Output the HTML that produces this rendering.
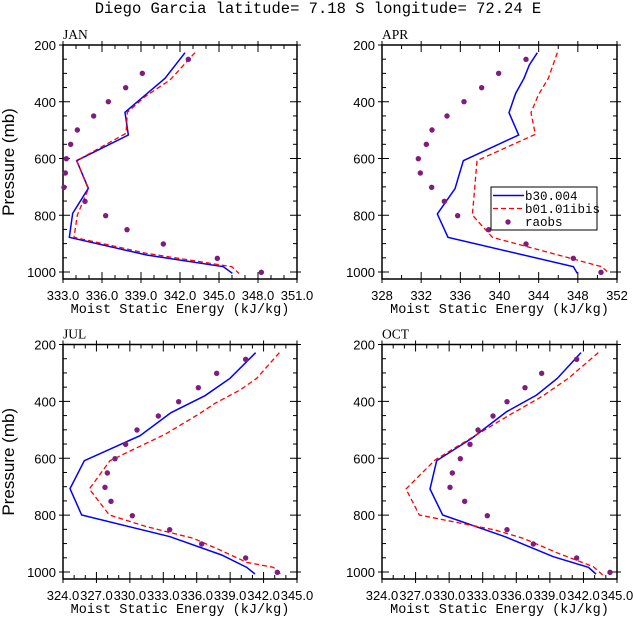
<!DOCTYPE html>
<html><head><meta charset="utf-8"><style>
body{margin:0;background:#fff;}
svg text{fill:#000}
.t{font-family:"Liberation Sans",sans-serif;font-size:13px}
.m{font-family:"Liberation Mono",monospace}
.s{font-family:"Liberation Serif",serif}
</style></head><body>
<svg id="s" xmlns="http://www.w3.org/2000/svg" width="633" height="624" viewBox="0 0 633 624">
<text class="m" x="318" y="13" font-size="15.5" text-anchor="middle" style="font-family:'Liberation Mono','Courier New',monospace">Diego Garcia  latitude= 7.18 S longitude= 72.24 E</text>
</svg>
<script>
var s=document.getElementById('s'),NS='http://www.w3.org/2000/svg';
function el(t,a,txt){var e=document.createElementNS(NS,t);for(var k in a)e.setAttribute(k,a[k]);if(txt!=null)e.textContent=txt;s.appendChild(e);return e;}
function conv(arr,ox,oy){var r=[];for(var i=0;i<arr.length;i+=2)r.push([arr[i]/3+ox,arr[i+1]/3+oy]);return r;}
function panel(p){
 var x0=p.x0,x1=p.x1,y0=p.y0,y1=p.y1,yb=p.yb;
 var ppm=(yb-y0)/800;
 el('rect',{x:x0,y:y0,width:x1-x0,height:y1-y0,fill:'none',stroke:'#000','stroke-width':1.5});
 el('text',{x:x0,y:y0-6,'class':'s','font-size':13.5},p.name);
 for(var pr=200;pr<=1000;pr+=50){var y=y0+(pr-200)*ppm;var L=(pr%200==0)?7:4;
  el('line',{x1:x0,y1:y,x2:x0+L,y2:y,stroke:'#000'});el('line',{x1:x1,y1:y,x2:x1-L,y2:y,stroke:'#000'});
  if(pr%200==0){el('line',{x1:x0,y1:y,x2:x0-4,y2:y,stroke:'#000'});el('line',{x1:x1,y1:y,x2:x1+4,y2:y,stroke:'#000'});
   el('text',{x:x0-7,y:y+5,'class':'t','text-anchor':'end'},pr);}
 }
 var n=p.labels.length-1,sub=p.sub;
 for(var i=0;i<=n*sub;i++){var x=x0+(x1-x0)*i/(n*sub);var maj=i%sub==0;var L=maj?7:4;
  el('line',{x1:x,y1:y1,x2:x,y2:y1-L,stroke:'#000'});el('line',{x1:x,y1:y0,x2:x,y2:y0+L,stroke:'#000'});
  if(maj){el('line',{x1:x,y1:y1,x2:x,y2:y1+4,stroke:'#000'});el('line',{x1:x,y1:y0,x2:x,y2:y0-4,stroke:'#000'});
   el('text',{x:x,y:y1+21,'class':'t','text-anchor':'middle'},p.labels[i/sub]);}
 }
 el('text',{x:(x0+x1)/2,y:y1+34,'class':'m','font-size':13.5,'text-anchor':'middle'},'Moist Static Energy (kJ/kg)');
 if(p.left) el('text',{x:0,y:0,'class':'t',style:'font-size:17px','text-anchor':'middle',transform:'translate(14,'+((y0+y1)/2)+') rotate(-90)'},'Pressure (mb)');
 var b=conv(p.blue,p.ox,p.oy).map(function(q){return q.join(',')}).join(' ');
 var r=conv(p.red,p.ox,p.oy).map(function(q){return q.join(',')}).join(' ');
 el('polyline',{points:b,fill:'none',stroke:'#0000ff','stroke-width':1.5});
 el('polyline',{points:r,fill:'none',stroke:'#ff0000','stroke-width':1.3,'stroke-dasharray':'5,3'});
 conv(p.dots,p.ox,p.oy).forEach(function(q){el('circle',{cx:q[0],cy:q[1],r:2.7,fill:'#7f1c7f'})});
}
var lx=['333.0','336.0','339.0','342.0','345.0','348.0','351.0'];
var lb=['324.0','327.0','330.0','333.0','336.0','339.0','342.0','345.0'];
panel({name:'JAN',x0:63,x1:297,y0:45,yb:272,y1:279,ox:0,oy:0,labels:lx,sub:3,left:1,
 blue:[555,158,495,235,430,290,375,337,385,405,230,482,265,565,218,640,208,712,440,765,670,800,697,820],
 red:[585,158,510,240,435,290,382,337,378,400,230,482,265,567,232,645,222,712,440,760,695,800,717,820],
 dots:[565,178,427,220,377,263,325,305,281,348,232,390,212,433,199,476,196,519,192,562,255,604,317,647,381,689,490,732,652,775,784,817]});
panel({name:'APR',x0:382,x1:617,y0:45,yb:272,y1:279,ox:320,oy:0,labels:['328','332','336','340','344','348','352'],sub:2,
 blue:[652,158,628,195,612,235,587,280,567,338,596,405,430,482,405,566,352,642,384,712,760,800,772,820],
 red:[712,158,685,235,655,285,633,338,646,403,471,482,464,566,457,645,517,712,845,800,867,820],
 dots:[618,178,536,220,485,263,432,305,381,348,336,390,319,433,295,476,301,519,335,562,373,604,413,647,506,689,618,732,760,775,843,817]});
panel({name:'JUL',x0:63,x1:297,y0:344.5,yb:572,y1:579,ox:0,oy:310,labels:lb,sub:3,left:1,
 blue:[767,128,690,205,615,257,513,308,420,377,253,452,210,536,245,615,510,680,665,735,740,772,765,792],
 red:[838,128,770,205,720,240,645,280,600,310,497,372,330,452,268,537,328,615,440,650,580,685,660,720,740,757,820,772,845,795],
 dots:[737,148,650,190,595,233,536,275,475,318,411,360,377,403,345,446,322,489,315,532,333,574,397,617,509,659,605,702,737,744,832,787]});
panel({name:'OCT',x0:382,x1:617,y0:344.5,yb:572,y1:579,ox:320,oy:310,labels:lb,sub:3,
 blue:[783,128,712,205,650,255,560,305,455,385,350,452,330,537,368,615,555,680,700,740,805,772,828,792],
 red:[835,128,745,205,665,260,560,320,460,380,345,450,258,537,298,615,525,660,610,685,715,730,820,770,848,795],
 dots:[770,148,665,190,615,233,561,275,519,318,474,360,450,403,421,446,397,489,390,532,434,574,502,617,561,659,640,702,770,744,870,787]});
el('rect',{x:491,y:187,width:106,height:43,fill:'#fff',stroke:'#000','stroke-width':1});
el('line',{x1:493,y1:195.5,x2:524,y2:195.5,stroke:'#0000ff','stroke-width':1.5});
el('line',{x1:493,y1:208.5,x2:524,y2:208.5,stroke:'#ff0000','stroke-width':1.3,'stroke-dasharray':'5,3'});
el('circle',{cx:508,cy:222,r:2.7,fill:'#7f1c7f'});
el('text',{x:525,y:200,'class':'m','font-size':12.5},'b30.004');
el('text',{x:525,y:213,'class':'m','font-size':12.5},'b01.01ibis');
el('text',{x:525,y:226,'class':'m','font-size':12.5},'raobs');
</script>
</body></html>
